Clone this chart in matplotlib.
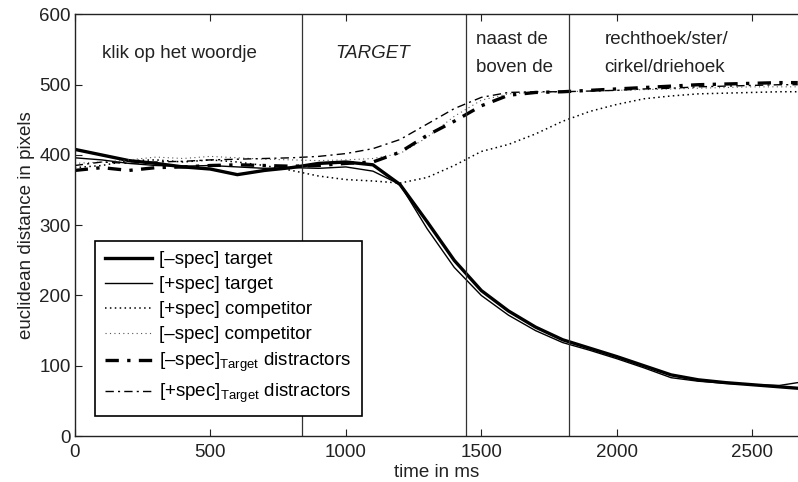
import matplotlib
matplotlib.use("Agg")
import matplotlib.pyplot as plt

plt.rcParams['font.family'] = ['Liberation Sans', 'DejaVu Sans']
plt.rcParams['mathtext.fontset'] = 'custom'
plt.rcParams['mathtext.rm'] = 'Liberation Sans'
plt.rcParams['mathtext.it'] = 'Liberation Sans:italic'

FS = 13.5

time_ms = [0, 100, 200, 300, 400, 500, 600, 700, 800, 900, 1000, 1100, 1200, 1300,
           1400, 1500, 1600, 1700, 1800, 1900, 2000, 2100, 2200, 2300, 2400, 2500, 2600, 2667]

neg_target = [408, 400, 392, 388, 383, 380, 372, 378, 382, 388, 390, 386, 358, 305,
              250, 207, 178, 155, 137, 125, 113, 100, 87, 80, 76, 73, 70, 68]
pos_target = [396, 393, 388, 385, 384, 385, 383, 381, 382, 381, 383, 377, 358, 295,
              240, 200, 172, 150, 133, 122, 110, 97, 83, 78, 75, 73, 72, 76]
pos_comp = [382, 385, 392, 393, 390, 393, 390, 385, 378, 370, 365, 363, 360, 368,
            385, 405, 415, 430, 448, 462, 472, 480, 484, 487, 488, 489, 490, 490]
neg_comp = [388, 390, 393, 397, 395, 398, 396, 394, 393, 392, 393, 395, 402, 425,
            455, 478, 487, 489, 490, 491, 492, 493, 494, 495, 496, 497, 497, 497]
neg_dist = [378, 382, 378, 382, 383, 385, 386, 385, 384, 385, 388, 390, 404, 428,
            448, 470, 485, 489, 490, 492, 494, 496, 498, 500, 501, 502, 503, 503]
pos_dist = [385, 390, 388, 390, 391, 393, 394, 395, 396, 398, 402, 409, 422, 444,
            466, 482, 489, 490, 490, 491, 492, 494, 495, 497, 498, 499, 500, 500]

boundaries = [839, 1442, 1823]
segment_labels = [(100, 545, "klik op het woordje", 'normal'),
                  (960, 545, "TARGET", 'italic'),
                  (1482, 564, "naast de", 'normal'),
                  (1482, 524, "boven de", 'normal'),
                  (1954, 564, "rechthoek/ster/", 'normal'),
                  (1954, 524, "cirkel/driehoek", 'normal')]

fig = plt.figure(figsize=(7.98, 4.82), dpi=100)
ax = fig.add_axes([0.0936, 0.0954, 0.9064, 0.8746])

ax.plot(time_ms, neg_target, color='black', lw=2.4, label='[–spec] target')
ax.plot(time_ms, pos_target, color='black', lw=1.0, label='[+spec] target')
ax.plot(time_ms, pos_comp, color='black', lw=1.1, linestyle=(0, (1, 2.2)), label='[+spec] competitor')
ax.plot(time_ms, neg_comp, color='#555555', lw=0.8, linestyle=(0, (1, 3)), label='[–spec] competitor')
ax.plot(time_ms, neg_dist, color='black', lw=2.4, linestyle=(0, (4, 2.5, 1, 2.5)),
        label=r'[–spec]$_{\mathrm{Target}}$ distractors')
ax.plot(time_ms, pos_dist, color='black', lw=1.0, linestyle=(0, (6, 3, 1.5, 3)),
        label=r'[+spec]$_{\mathrm{Target}}$ distractors')

for b in boundaries:
    ax.axvline(b, color='#333333', lw=0.9)

for x, y, s, st in segment_labels:
    ax.text(x, y, s, fontsize=FS, style=st, color='#222222', va='center', ha='left')

ax.set_xlim(0, 2668)
ax.set_ylim(0, 600)
ax.set_xticks([0, 500, 1000, 1500, 2000, 2500])
ax.set_yticks([0, 100, 200, 300, 400, 500, 600])
ax.tick_params(direction='in', top=True, right=False, labelsize=FS, length=5, width=0.8,
               colors='#222222')
ax.tick_params(axis='x', pad=6)
ax.tick_params(axis='y', pad=3)
ax.spines['right'].set_visible(False)
for s in ['left', 'bottom', 'top']:
    ax.spines[s].set_linewidth(1.0)
    ax.spines[s].set_color('#222222')
ax.set_xlabel('time in ms', fontsize=FS, color='#222222', labelpad=2)
ax.set_ylabel('euclidean distance in pixels', fontsize=FS, color='#222222', labelpad=3)

leg = ax.legend(loc='lower left', bbox_to_anchor=(0.028, 0.048), fontsize=FS, frameon=True,
                fancybox=False, edgecolor='black', framealpha=1, handlelength=2.5,
                borderpad=0.55, labelspacing=0.42, handletextpad=0.35, borderaxespad=0)
leg.get_frame().set_linewidth(1.2)

fig.savefig('out.png', dpi=100)
